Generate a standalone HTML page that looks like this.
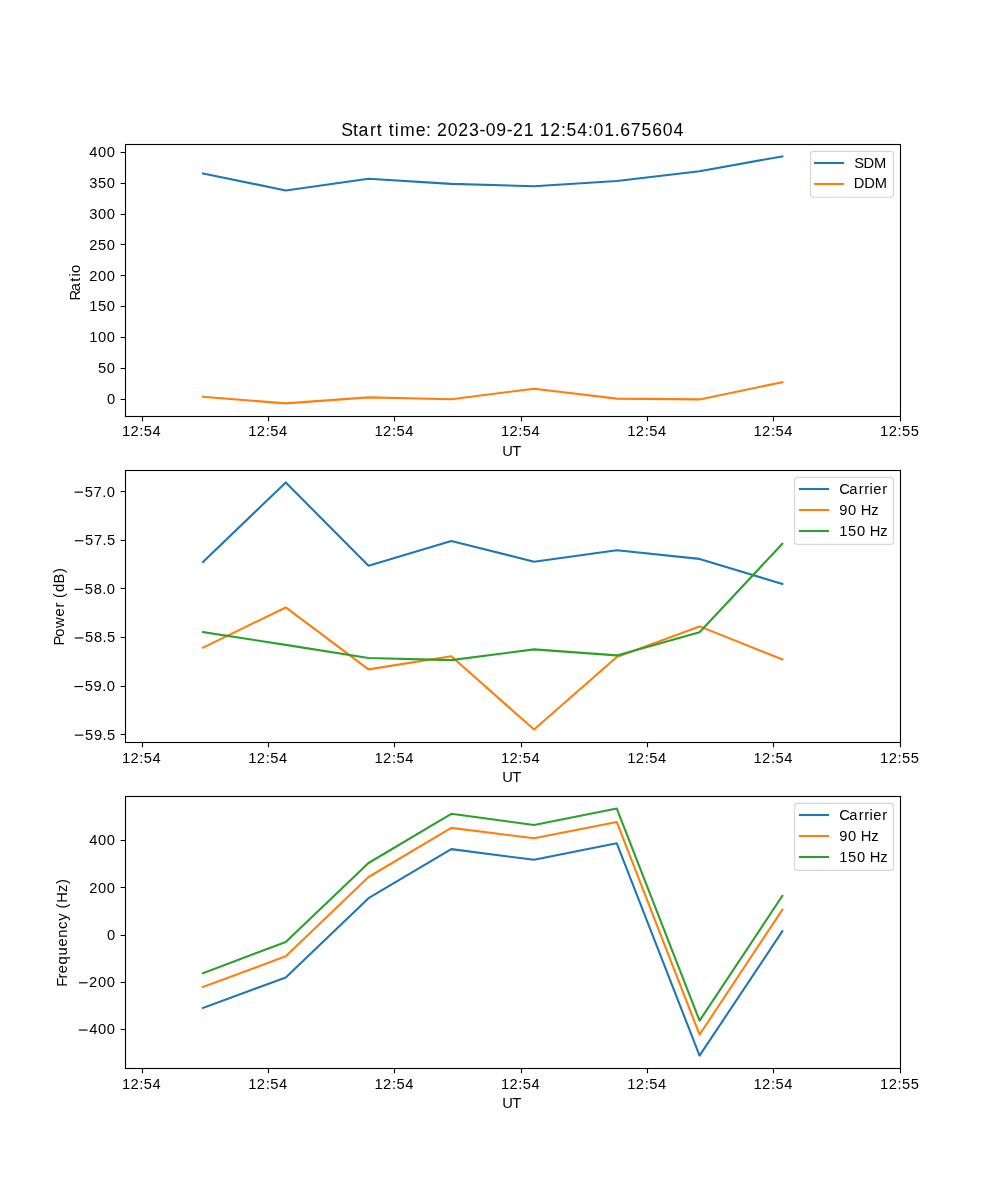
<!DOCTYPE html>
<html><head><meta charset="utf-8"><title>Start time: 2023-09-21 12:54:01.675604</title>
<style>html,body{margin:0;padding:0;background:#fff}svg{display:block;will-change:transform}text{font-family:"Liberation Sans",sans-serif;fill:#000;font-kerning:none}</style></head>
<body><svg width="1000" height="1200" viewBox="0 0 1000 1200">
<defs><clipPath id="c0"><rect x="125" y="144.0" width="775" height="271.76"/></clipPath><clipPath id="c1"><rect x="125" y="470.12" width="775" height="271.76"/></clipPath><clipPath id="c2"><rect x="125" y="796.24" width="775" height="271.76"/></clipPath></defs>
<rect width="1000" height="1200" fill="#fff"/>
<g clip-path="url(#c0)" fill="none" stroke-width="2.0833" stroke-linecap="square" stroke-linejoin="round">
<polyline points="203.00,173.40 285.76,190.50 368.52,178.70 451.28,183.90 534.04,186.20 616.80,181.00 699.56,171.20 782.32,156.35" stroke="#1f77b4"/>
<polyline points="203.00,396.70 285.76,403.41 368.52,397.40 451.28,399.20 534.04,388.80 616.80,398.60 699.56,399.40 782.32,382.15" stroke="#ff7f0e"/>
</g>
<rect x="125.5" y="144.5" width="775" height="272.0" fill="none" stroke="#000" stroke-width="1.1111"/>
<path d="M142.5 416.5v4.86 M268.5 416.5v4.86 M394.5 416.5v4.86 M521.5 416.5v4.86 M647.5 416.5v4.86 M773.5 416.5v4.86 M900.5 416.5v4.86 M125.5 399.5h-4.86 M125.5 368.5h-4.86 M125.5 337.5h-4.86 M125.5 306.5h-4.86 M125.5 275.5h-4.86 M125.5 244.5h-4.86 M125.5 214.5h-4.86 M125.5 183.5h-4.86 M125.5 152.5h-4.86" stroke="#000" stroke-width="1.1111" fill="none"/>
<text x="121.88 130.45 139.32 143.85 152.57" y="436.00" font-size="14.72">12:54</text>
<text x="248.22 256.79 265.66 270.18 278.91" y="436.00" font-size="14.72">12:54</text>
<text x="374.55 383.12 391.99 396.51 405.24" y="436.00" font-size="14.72">12:54</text>
<text x="500.88 509.45 518.32 522.85 531.57" y="436.00" font-size="14.72">12:54</text>
<text x="627.22 635.79 644.66 649.18 657.91" y="436.00" font-size="14.72">12:54</text>
<text x="753.55 762.12 770.99 775.51 784.24" y="436.00" font-size="14.72">12:54</text>
<text x="880.10 888.67 897.53 902.06 910.73" y="436.00" font-size="14.72">12:55</text>
<text x="502.32 512.13" y="456.00" font-size="14.72">UT</text>
<text x="106.92" y="404.10" font-size="14.72">0</text>
<text x="98.11 106.83" y="373.23" font-size="14.72">50</text>
<text x="89.28 98.08 106.81" y="342.35" font-size="14.72">100</text>
<text x="89.28 98.03 106.81" y="311.48" font-size="14.72">150</text>
<text x="89.17 98.08 106.81" y="280.60" font-size="14.72">200</text>
<text x="89.17 98.03 106.81" y="249.73" font-size="14.72">250</text>
<text x="89.37 98.08 106.81" y="218.85" font-size="14.72">300</text>
<text x="89.37 98.03 106.81" y="187.97" font-size="14.72">350</text>
<text x="89.35 98.08 106.81" y="157.10" font-size="14.72">400</text>
<text transform="translate(80.07 0) rotate(-90)" x="-300.44 -291.20 -281.69 -276.59 -272.88" y="0" font-size="14.72">Ratio</text>
<rect x="810.6" y="151.4" width="82.80" height="45.90" rx="2.78" fill="#fff" fill-opacity="0.8" stroke="#ccc" stroke-opacity="0.8" stroke-width="1.1111"/>
<path d="M815.04 163.00H843.06" stroke="#1f77b4" stroke-width="2.0833" stroke-linecap="square"/>
<text x="854.32 863.51 873.91" y="167.90" font-size="14.72">SDM</text>
<path d="M815.04 184.00H843.06" stroke="#ff7f0e" stroke-width="2.0833" stroke-linecap="square"/>
<text x="853.65 864.24 874.63" y="187.90" font-size="14.72">DDM</text>
<g clip-path="url(#c1)" fill="none" stroke-width="2.0833" stroke-linecap="square" stroke-linejoin="round">
<polyline points="203.00,562.00 285.76,482.47 368.52,565.80 451.28,541.00 534.04,561.70 616.80,550.30 699.56,558.90 782.32,584.00" stroke="#1f77b4"/>
<polyline points="203.00,647.60 285.76,607.45 368.52,669.40 451.28,656.30 534.04,729.53 616.80,657.00 699.56,626.40 782.32,659.40" stroke="#ff7f0e"/>
<polyline points="203.00,632.10 285.76,644.90 368.52,658.00 451.28,660.10 534.04,649.40 616.80,655.40 699.56,632.20 782.32,543.80" stroke="#2ca02c"/>
</g>
<rect x="125.5" y="470.5" width="775" height="272.0" fill="none" stroke="#000" stroke-width="1.1111"/>
<path d="M142.5 742.5v4.86 M268.5 742.5v4.86 M394.5 742.5v4.86 M521.5 742.5v4.86 M647.5 742.5v4.86 M773.5 742.5v4.86 M900.5 742.5v4.86 M125.5 491.5h-4.86 M125.5 540.5h-4.86 M125.5 588.5h-4.86 M125.5 637.5h-4.86 M125.5 686.5h-4.86 M125.5 734.5h-4.86" stroke="#000" stroke-width="1.1111" fill="none"/>
<text x="121.88 130.45 139.32 143.85 152.57" y="763.00" font-size="14.72">12:54</text>
<text x="248.22 256.79 265.66 270.18 278.91" y="763.00" font-size="14.72">12:54</text>
<text x="374.55 383.12 391.99 396.51 405.24" y="763.00" font-size="14.72">12:54</text>
<text x="500.88 509.45 518.32 522.85 531.57" y="763.00" font-size="14.72">12:54</text>
<text x="627.22 635.79 644.66 649.18 657.91" y="763.00" font-size="14.72">12:54</text>
<text x="753.55 762.12 770.99 775.51 784.24" y="763.00" font-size="14.72">12:54</text>
<text x="880.10 888.67 897.53 902.06 910.73" y="763.00" font-size="14.72">12:55</text>
<text x="502.32 512.13" y="782.12" font-size="14.72">UT</text>
<rect x="74.49" y="491.57" width="8.63" height="1.15"/>
<text x="84.82 93.61 102.26 106.79" y="496.50" font-size="14.72">57.0</text>
<rect x="74.78" y="540.17" width="8.63" height="1.15"/>
<text x="85.11 93.90 102.55 107.03" y="545.10" font-size="14.72">57.5</text>
<rect x="74.49" y="588.77" width="8.63" height="1.15"/>
<text x="84.82 93.64 102.26 106.79" y="593.70" font-size="14.72">58.0</text>
<rect x="74.78" y="637.37" width="8.63" height="1.15"/>
<text x="85.11 93.93 102.55 107.03" y="642.30" font-size="14.72">58.5</text>
<rect x="74.49" y="685.97" width="8.63" height="1.15"/>
<text x="84.82 93.60 102.26 106.79" y="690.90" font-size="14.72">59.0</text>
<rect x="74.78" y="734.57" width="8.63" height="1.15"/>
<text x="85.11 93.89 102.55 107.03" y="739.50" font-size="14.72">59.5</text>
<text transform="translate(63.84 0) rotate(-90)" x="-645.50 -636.84 -627.97 -616.59 -607.45 -602.16 -597.94 -592.06 -583.48 -573.02" y="0" font-size="14.72">Power (dB)</text>
<rect x="794.6" y="477.4" width="98.80" height="67.00" rx="2.78" fill="#fff" fill-opacity="0.8" stroke="#ccc" stroke-opacity="0.8" stroke-width="1.1111"/>
<path d="M799.94 489.00H828.06" stroke="#1f77b4" stroke-width="2.0833" stroke-linecap="square"/>
<text x="839.27 849.14 858.67 864.13 869.47 873.23 882.22" y="493.90" font-size="14.72">Carrier</text>
<path d="M799.94 510.00H828.06" stroke="#ff7f0e" stroke-width="2.0833" stroke-linecap="square"/>
<text x="839.27 848.09 856.71 860.81 871.31" y="514.80" font-size="14.72">90 Hz</text>
<path d="M799.94 531.00H828.06" stroke="#2ca02c" stroke-width="2.0833" stroke-linecap="square"/>
<text x="839.30 848.10 856.94 865.57 869.68 880.19" y="535.90" font-size="14.72">150 Hz</text>
<g clip-path="url(#c2)" fill="none" stroke-width="2.0833" stroke-linecap="square" stroke-linejoin="round">
<polyline points="203.00,1008.00 285.76,977.40 368.52,898.20 451.28,849.10 534.04,859.80 616.80,843.30 699.56,1055.65 782.32,931.30" stroke="#1f77b4"/>
<polyline points="203.00,987.00 285.76,956.20 368.52,877.00 451.28,827.90 534.04,838.20 616.80,822.10 699.56,1034.70 782.32,909.70" stroke="#ff7f0e"/>
<polyline points="203.00,973.20 285.76,942.00 368.52,863.00 451.28,813.80 534.04,825.00 616.80,808.59 699.56,1020.70 782.32,895.90" stroke="#2ca02c"/>
</g>
<rect x="125.5" y="796.5" width="775" height="272.0" fill="none" stroke="#000" stroke-width="1.1111"/>
<path d="M142.5 1068.5v4.86 M268.5 1068.5v4.86 M394.5 1068.5v4.86 M521.5 1068.5v4.86 M647.5 1068.5v4.86 M773.5 1068.5v4.86 M900.5 1068.5v4.86 M125.5 840.5h-4.86 M125.5 887.5h-4.86 M125.5 935.5h-4.86 M125.5 982.5h-4.86 M125.5 1029.5h-4.86" stroke="#000" stroke-width="1.1111" fill="none"/>
<text x="121.88 130.45 139.32 143.85 152.57" y="1089.00" font-size="14.72">12:54</text>
<text x="248.22 256.79 265.66 270.18 278.91" y="1089.00" font-size="14.72">12:54</text>
<text x="374.55 383.12 391.99 396.51 405.24" y="1089.00" font-size="14.72">12:54</text>
<text x="500.88 509.45 518.32 522.85 531.57" y="1089.00" font-size="14.72">12:54</text>
<text x="627.22 635.79 644.66 649.18 657.91" y="1089.00" font-size="14.72">12:54</text>
<text x="753.55 762.12 770.99 775.51 784.24" y="1089.00" font-size="14.72">12:54</text>
<text x="880.10 888.67 897.53 902.06 910.73" y="1089.00" font-size="14.72">12:55</text>
<text x="502.32 512.13" y="1108.24" font-size="14.72">UT</text>
<text x="89.35 98.08 106.81" y="845.40" font-size="14.72">400</text>
<text x="89.17 98.08 106.81" y="892.65" font-size="14.72">200</text>
<text x="106.92" y="939.90" font-size="14.72">0</text>
<rect x="78.91" y="982.22" width="8.62" height="1.15"/>
<text x="89.09 98.03 106.80" y="987.15" font-size="14.72">200</text>
<rect x="78.91" y="1029.47" width="8.62" height="1.15"/>
<text x="89.27 98.03 106.80" y="1034.40" font-size="14.72">400</text>
<text transform="translate(67.00 0) rotate(-90)" x="-986.73 -978.41 -973.33 -964.57 -955.50 -946.57 -937.69 -929.07 -920.80 -912.70 -908.45 -902.84 -892.06 -884.03" y="0" font-size="14.72">Frequency (Hz)</text>
<rect x="794.6" y="803.4" width="98.80" height="67.00" rx="2.78" fill="#fff" fill-opacity="0.8" stroke="#ccc" stroke-opacity="0.8" stroke-width="1.1111"/>
<path d="M799.94 815.00H828.06" stroke="#1f77b4" stroke-width="2.0833" stroke-linecap="square"/>
<text x="839.27 849.14 858.67 864.13 869.47 873.23 882.22" y="819.90" font-size="14.72">Carrier</text>
<path d="M799.94 836.00H828.06" stroke="#ff7f0e" stroke-width="2.0833" stroke-linecap="square"/>
<text x="839.27 848.09 856.71 860.81 871.31" y="840.80" font-size="14.72">90 Hz</text>
<path d="M799.94 857.00H828.06" stroke="#2ca02c" stroke-width="2.0833" stroke-linecap="square"/>
<text x="839.30 848.10 856.94 865.57 869.68 880.19" y="861.90" font-size="14.72">150 Hz</text>
<text x="341.21 353.11 358.47 369.97 376.81 382.80 388.70 394.85 399.97 415.71 426.11 431.59 436.89 447.76 458.19 469.09 479.39 485.76 496.36 506.73 512.88 523.66 534.20 539.64 550.16 560.99 566.61 577.32 587.94 593.61 604.18 614.71 620.24 630.86 641.48 652.20 662.85 673.50" y="135.95" font-size="17.67">Start time: 2023-09-21 12:54:01.675604</text>
</svg></body></html>
